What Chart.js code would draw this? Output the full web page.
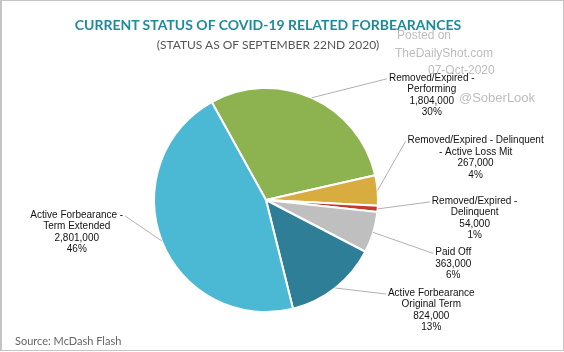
<!DOCTYPE html>
<html>
<head>
<meta charset="utf-8">
<script src="https://cdn.jsdelivr.net/npm/chart.js@4/dist/chart.umd.min.js"></script>
<style>
  html, body { margin: 0; padding: 0; background: #fff; }
  #wrap { position: relative; width: 564px; height: 352px; overflow: hidden; }
  #frame { position: absolute; left: 0; top: 0; width: 561px; height: 349px; border: 1px solid #c4c4c4; border-left-width: 2px; pointer-events: none; }
  canvas { position: absolute; left: 0; top: 0; }
  .t { position: absolute; white-space: nowrap; }
  #title { left: 0; width: 536px; text-align: center; top: 16px; font: 700 14px Lato, sans-serif; color: #1E8B9B; }
  #sub { left: 0; width: 536px; text-align: center; top: 37px; font: 400 12px Lato, sans-serif; color: #555; }
  .wm { color: #bdbdbd; font: 12px "Liberation Sans", Arial, sans-serif; }
  #src { left: 15px; top: 334px; font: 11px Lato, sans-serif; color: #666; }
</style>
</head>
<body>
<div id="wrap">
  <canvas id="c" width="564" height="352"></canvas>
  <div class="t" id="title">CURRENT STATUS OF COVID-19 RELATED FORBEARANCES</div>
  <div class="t" id="sub">(STATUS AS OF SEPTEMBER 22ND 2020)</div>
  <div class="t wm" style="left:397px;top:28px;">Posted on</div>
  <div class="t wm" style="left:395px;top:46px;">TheDailyShot.com</div>
  <div class="t wm" style="left:428px;top:63px;">07-Oct-2020</div>
  <div class="t wm" style="left:459px;top:90px;font-size:13px;">@SoberLook</div>
  <div class="t" id="src">Source: McDash Flash</div>
  <div id="frame"></div>
</div>
<script>
// ---- data ----
const categories = [
  ["Removed/Expired -", "Performing"],
  ["Removed/Expired - Delinquent", "- Active Loss Mit"],
  ["Removed/Expired -", "Delinquent"],
  ["Paid Off"],
  ["Active Forbearance", "Original Term"],
  ["Active Forbearance -", "Term Extended"]
];
const loans = [1804000, 267000, 54000, 363000, 824000, 2801000];
const percentLabels = ["30%", "4%", "1%", "6%", "13%", "46%"];

// ---- styling / layout (not data) ----
const sliceColors = ["#8DB350", "#D8AC3E", "#C23B2E", "#BFBFBF", "#2D7E96", "#4BB9D3"];
// offset of each label's first-line centre from the slice's outer mid point
const labelOffsets = [[120, -20], [98, -50], [97, -8], [80, 20], [96, 5], [-85, -26]];

const fmt = n => n.toLocaleString("en-US");

const outsideLabels = {
  id: "outsideLabels",
  afterDatasetsDraw(chart) {
    const ctx = chart.ctx;
    const meta = chart.getDatasetMeta(0);
    ctx.save();
    ctx.font = "10px 'Liberation Sans', Arial, sans-serif";
    ctx.textAlign = "center";
    ctx.textBaseline = "middle";
    const lh = 11.5;
    meta.data.forEach((arc, i) => {
      const p = arc.getProps(["x", "y", "startAngle", "endAngle", "outerRadius"], true);
      const mid = (p.startAngle + p.endAngle) / 2;
      const ex = p.x + Math.cos(mid) * p.outerRadius;
      const ey = p.y + Math.sin(mid) * p.outerRadius;
      const [dx, dy] = labelOffsets[i];
      const cx = ex + dx, cy = ey + dy;
      const lines = [...categories[i], fmt(loans[i]), percentLabels[i]];
      const w0 = ctx.measureText(lines[0]).width;
      const endX = dx > 0 ? cx - w0 / 2 - 2 : cx + w0 / 2 + 2;
      ctx.strokeStyle = "#b0b0b0";
      ctx.lineWidth = 1;
      ctx.beginPath();
      ctx.moveTo(ex, ey);
      ctx.lineTo(endX, cy + 1);
      ctx.stroke();
      ctx.fillStyle = "#111";
      lines.forEach((t, k) => ctx.fillText(t, cx, cy + k * lh));
    });
    ctx.restore();
  }
};

new Chart(document.getElementById("c"), {
  type: "pie",
  data: {
    labels: categories.map(c => c.join(" ")),
    datasets: [{
      data: loans,
      backgroundColor: sliceColors,
      borderColor: "#ffffff",
      borderWidth: 2
    }]
  },
  options: {
    responsive: false,
    animation: false,
    rotation: -29,
    layout: { padding: { left: 153, right: 185, top: 87, bottom: 39 } },
    plugins: {
      legend: { display: false },
      tooltip: { enabled: false }
    }
  },
  plugins: [outsideLabels]
});
</script>
</body>
</html>
